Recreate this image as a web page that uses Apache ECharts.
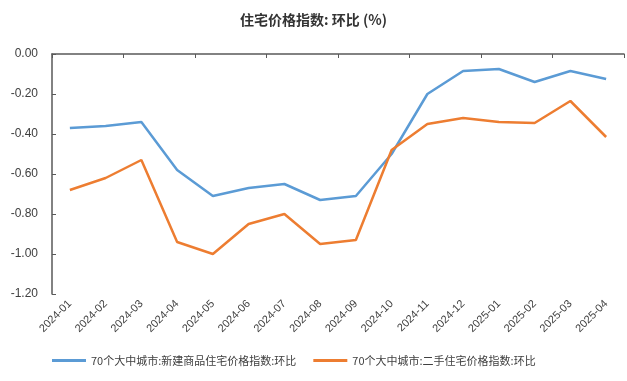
<!DOCTYPE html>
<html><head><meta charset="utf-8">
<script src="https://cdn.jsdelivr.net/npm/echarts@6/dist/echarts.min.js"></script>
<style>html,body{margin:0;padding:0;background:#fff}#c{width:627px;height:381px}</style>
</head><body><div id="c"></div>
<script>
const categories = ['2024-01','2024-02','2024-03','2024-04','2024-05','2024-06','2024-07','2024-08','2024-09','2024-10','2024-11','2024-12','2025-01','2025-02','2025-03','2025-04'];
const newHomes = [-0.37,-0.36,-0.34,-0.58,-0.71,-0.67,-0.65,-0.73,-0.71,-0.50,-0.20,-0.085,-0.075,-0.14,-0.085,-0.125];
const secondHand = [-0.68,-0.62,-0.53,-0.94,-1.00,-0.85,-0.80,-0.95,-0.93,-0.48,-0.35,-0.32,-0.34,-0.345,-0.235,-0.415];
const seriesNames = ['70个大中城市:新建商品住宅价格指数:环比','70个大中城市:二手住宅价格指数:环比'];
const titleText = '住宅价格指数: 环比 (%)';

const chart = echarts.init(document.getElementById('c'));
const font = '"Noto Sans CJK SC", "Liberation Sans", sans-serif';
const axisColor = '#595959';
chart.setOption({
  animation:false,
  title:{text:titleText,left:'center',top:8,textStyle:{fontFamily:font,fontSize:14,fontWeight:'bold',color:'#333333'}},
  grid:{left:52,right:3,top:54,bottom:87},
  legend:{bottom:10,left:47,itemWidth:34,itemHeight:3,itemGap:17,icon:'rect',
    textStyle:{fontFamily:font,fontSize:11,color:'#404040'},data:seriesNames},
  xAxis:[
    {type:'category',data:categories,position:'top',
     axisLine:{show:true,lineStyle:{color:axisColor,width:1.5}},
     axisTick:{show:true,inside:true,length:4,lineStyle:{color:axisColor}},
     axisLabel:{show:false}},
    {type:'category',data:categories,position:'bottom',
     axisLine:{show:false},axisTick:{show:false},
     axisLabel:{rotate:45,interval:0,fontSize:11,color:'#404040',fontFamily:'Liberation Sans, Arial, sans-serif',margin:8}}
  ],
  yAxis:{type:'value',min:-1.2,max:0,interval:0.2,
    axisLine:{show:true,lineStyle:{color:axisColor,width:1.5}},
    axisTick:{show:true,inside:true,length:4,lineStyle:{color:axisColor}},
    splitLine:{show:false},
    axisLabel:{formatter:function(v){return v.toFixed(2);},fontSize:12,color:'#404040',fontFamily:'Liberation Sans, Arial, sans-serif',margin:14}},
  series:[
    {name:seriesNames[0],type:'line',data:newHomes,symbol:'none',lineStyle:{width:2.5,color:'#5B9BD5'},itemStyle:{color:'#5B9BD5'}},
    {name:seriesNames[1],type:'line',data:secondHand,symbol:'none',lineStyle:{width:2.5,color:'#ED7D31'},itemStyle:{color:'#ED7D31'}}
  ]
});
</script></body></html>
